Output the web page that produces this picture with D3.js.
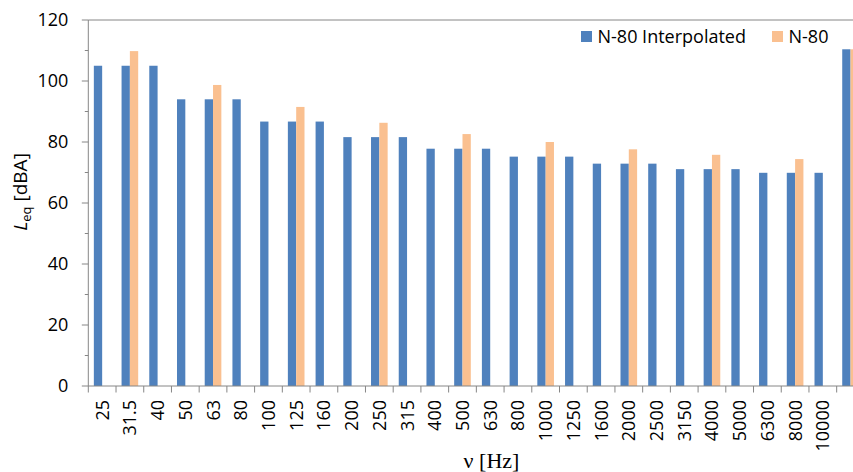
<!DOCTYPE html>
<html>
<head>
<meta charset="utf-8">
<script src="https://cdn.jsdelivr.net/npm/d3@7"></script>
<style>
  html, body { margin: 0; padding: 0; background: #fff; overflow: hidden; }
  svg { display: block; }
  text { font-family: "Open Sans", "Liberation Sans", sans-serif; fill: #000; }
</style>
</head>
<body>
<svg id="chart" width="853" height="472"></svg>
<script>
const categories = ["25","31.5","40","50","63","80","100","125","160","200","250","315","400","500","630","800","1000","1250","1600","2000","2500","3150","4000","5000","6300","8000","10000",""];
const interpolated = [105,105,105,94,94,94,86.7,86.7,86.7,81.6,81.6,81.6,77.8,77.8,77.8,75.2,75.2,75.2,72.9,72.9,72.9,71.1,71.1,71.1,69.9,69.9,69.9,110.4];
const n80 = [null,109.8,null,null,98.7,null,null,91.5,null,null,86.3,null,null,82.6,null,null,80.0,null,null,77.6,null,null,75.8,null,null,74.4,null,110.4];
const seriesNames = ["N-80 Interpolated","N-80"];
const yTicks = [0,20,40,60,80,100,120];
const yMinorTicks = [10,30,50,70,90,110];

(function () {
const colors = ["#4F81BD","#FAC090"];
const svg = d3.select("#chart");
const mLeft = 88.3, mRight = 864.4, mTop = 20, mBottom = 386;

const x = d3.scaleBand().domain(categories.map((c,i)=>i)).range([mLeft, mRight]).padding(0);
const y = d3.scaleLinear().domain([0,120]).range([mBottom, mTop]);
const barW = x.bandwidth() * 0.3;
const x1 = d3.scaleBand().domain([0,1]).range([-barW, barW]).padding(0);

const axisColor = "#868686";

// top border line
svg.append("line").attr("x1", mLeft).attr("x2", mRight).attr("y1", y(120)).attr("y2", y(120))
  .attr("stroke", axisColor).attr("stroke-width", 1);

// bars
const data = [interpolated, n80];
data.forEach((vals, s) => {
  svg.append("g").selectAll("rect")
    .data(vals.map((v,i)=>({v,i})).filter(d => d.v != null))
    .join("rect")
    .attr("x", d => x(d.i) + x.bandwidth()/2 + x1(s))
    .attr("width", x1.bandwidth())
    .attr("y", d => y(d.v))
    .attr("height", d => y(0) - y(d.v))
    .attr("fill", colors[s]);
});

// y axis
const gy = svg.append("g");
gy.append("line").attr("x1", mLeft).attr("x2", mLeft).attr("y1", y(0)).attr("y2", y(120))
  .attr("stroke", axisColor);
gy.selectAll(".maj").data(yTicks).join("line").attr("class","maj")
  .attr("x1", mLeft - 6.5).attr("x2", mLeft).attr("y1", d => y(d)).attr("y2", d => y(d))
  .attr("stroke", axisColor);
gy.selectAll(".min").data(yMinorTicks).join("line").attr("class","min")
  .attr("x1", mLeft - 3.5).attr("x2", mLeft).attr("y1", d => y(d)).attr("y2", d => y(d))
  .attr("stroke", axisColor);
gy.selectAll("text").data(yTicks).join("text")
  .attr("x", mLeft - 20).attr("y", d => y(d)).attr("dy", "0.36em")
  .attr("text-anchor", "end").style("font-size", "18px").text(d => d);

// x axis
const gx = svg.append("g");
gx.append("line").attr("x1", mLeft).attr("x2", mRight).attr("y1", y(0)).attr("y2", y(0))
  .attr("stroke", axisColor);
const bounds = categories.map((c,i)=>x(i)).concat([mRight]);
gx.selectAll(".tk").data(bounds).join("line").attr("class","tk")
  .attr("x1", d => d).attr("x2", d => d).attr("y1", y(0)).attr("y2", y(0) + 6.5)
  .attr("stroke", axisColor);
gx.selectAll("text").data(categories.map((c,i)=>({c,i}))).join("text")
  .attr("transform", d => `translate(${x(d.i) + x.bandwidth()/2},${y(0) + 14}) rotate(-90)`)
  .attr("dy", "0.36em").attr("text-anchor", "end").style("font-size", "18px")
  .text(d => d.c);

// axis titles
const yt = svg.append("text")
  .attr("transform", `translate(27,192) rotate(-90)`)
  .attr("text-anchor", "middle").style("font-size", "19px");
yt.append("tspan").style("font-style", "italic").text("L");
yt.append("tspan").attr("dy", 4).style("font-size", "13px").text("eq");
yt.append("tspan").attr("dy", -4).text(" [dBA]");

svg.append("text").attr("x", 491.5).attr("y", 468).attr("text-anchor", "middle")
  .style("font-family", "'Liberation Serif','DejaVu Serif',serif").style("font-size", "22px")
  .text("ν [Hz]");

// legend
const lg = svg.append("g");
const legX = [581, 772];
seriesNames.forEach((n, i) => {
  lg.append("rect").attr("x", legX[i]).attr("y", 31).attr("width", 11).attr("height", 11).attr("fill", colors[i]);
  lg.append("text").attr("x", legX[i] + 16.5).attr("y", 36.5).attr("dy", "0.36em")
    .style("font-size", "18px").text(n);
});
})();
</script>
</body>
</html>
